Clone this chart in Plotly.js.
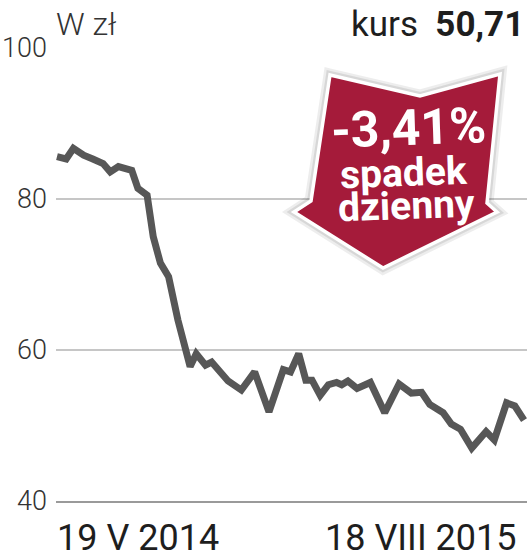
<!DOCTYPE html>
<html>
<head>
<meta charset="utf-8">
<script src="https://cdn.plot.ly/plotly-3.0.1.min.js"></script>
<style>
  html, body { margin: 0; padding: 0; background: #fff; }
  #chart { width: 527px; height: 560px; }
</style>
</head>
<body>
<div id="chart"></div>
<script>
// ---- data ----
const dates = [
  '2014-05-19','2014-05-28','2014-06-04','2014-06-14','2014-06-23','2014-07-03',
  '2014-07-10','2014-07-18','2014-07-31','2014-08-06','2014-08-15','2014-08-21',
  '2014-08-28','2014-09-05','2014-09-14','2014-09-26','2014-10-02','2014-10-11',
  '2014-10-17','2014-10-27','2014-11-02','2014-11-15','2014-11-28','2014-12-12',
  '2014-12-26','2015-01-02','2015-01-10','2015-01-17','2015-01-23','2015-01-31',
  '2015-02-08','2015-02-16','2015-02-21','2015-02-27','2015-03-08','2015-03-21',
  '2015-04-04','2015-04-18','2015-04-30','2015-05-10','2015-05-18','2015-05-31',
  '2015-06-08','2015-06-17','2015-06-28','2015-07-12','2015-07-20','2015-08-01',
  '2015-08-09','2015-08-18'
];
const prices = [
  85.6, 85.3, 86.7, 85.8, 85.3, 84.7,
  83.6, 84.3, 83.8, 81.4, 80.5, 75.0,
  71.5, 69.7, 64.0, 57.8, 59.5, 58.0,
  58.4, 56.7, 55.9, 54.7, 57.1, 51.8,
  57.4, 57.1, 59.5, 56.0, 56.0, 54.0,
  55.4, 55.7, 55.4, 55.9, 54.9, 55.7,
  51.7, 55.5, 54.3, 54.4, 52.8, 51.7,
  50.2, 49.5, 47.0, 49.2, 48.1, 53.0,
  52.6, 50.71
];
const yTickVals = [40, 60, 80, 100];
const yTickText = ['40', '60', '80', '100'];
const xLabels = ['19 V 2014', '18 VIII 2015'];
const unitLabel = 'W zł';
const priceLabel = 'kurs';
const lastPrice = '50,71';
const changeLabel = '-3,41%';
const changeWords = ['spadek', 'dzienny'];

// ---- geometry helpers (page pixels -> paper coords) ----
const W = 527, H = 560;
const M = { l: 56, r: 0, t: 48, b: 59 };
const PW = W - M.l - M.r, PH = H - M.t - M.b;
const px = x => (x - M.l) / PW;
const py = y => (H - M.b - y) / PH;

// arrow outline (decoration), page pixels
const arrowPts = [[330,75],[420,96],[500,74],[487,203],[497,212],[383,268],[294,212],[311,201]];
const arrowPath = 'M ' + arrowPts.map(p => px(p[0]).toFixed(4) + ',' + py(p[1]).toFixed(4)).join(' L ') + ' Z';

const txt = '#1e1e1e';

const trace = {
  x: dates, y: prices, type: 'scatter', mode: 'lines',
  line: { color: '#575757', width: 7 },
  hoverinfo: 'skip'
};

const layout = {
  width: W, height: H,
  margin: M,
  paper_bgcolor: '#fff', plot_bgcolor: '#fff',
  showlegend: false,
  xaxis: {
    type: 'date',
    range: ['2014-05-18 01:00', '2015-08-20 22:00'],
    showgrid: false, zeroline: false,
    showticklabels: false, ticks: '',
    showline: true, linecolor: '#9a9a9a', linewidth: 2
  },
  yaxis: {
    range: [40, 100],
    tickvals: yTickVals, ticktext: yTickText,
    showgrid: true, gridcolor: '#c6c6c6', gridwidth: 1.5,
    zeroline: false, showline: false, ticks: '',
    automargin: false,
    ticklabelstandoff: 8,
    tickfont: { family: 'Roboto', size: 27, color: '#333', weight: 300 }
  },
  shapes: [
    { type: 'path', xref: 'paper', yref: 'paper', path: arrowPath, layer: 'above',
      fillcolor: 'rgba(0,0,0,0.06)', line: { color: 'rgba(0,0,0,0.07)', width: 13 } },
    { type: 'path', xref: 'paper', yref: 'paper', path: arrowPath, layer: 'above',
      fillcolor: 'rgba(0,0,0,0.06)', line: { color: 'rgba(0,0,0,0.09)', width: 8 } },
    { type: 'path', xref: 'paper', yref: 'paper', path: arrowPath, layer: 'above',
      fillcolor: '#a51b3a', line: { color: '#ffffff', width: 3.5 } }
  ],
  annotations: [
    { xref: 'paper', yref: 'paper', x: px(54), y: py(24), xanchor: 'left', yanchor: 'middle',
      text: unitLabel, showarrow: false,
      font: { family: 'Roboto', size: 32, color: '#333', weight: 300 } },
    { xref: 'paper', yref: 'paper', x: px(526), y: py(25), xanchor: 'right', yanchor: 'middle',
      text: priceLabel + '  <b>' + lastPrice + '</b>', showarrow: false,
      font: { family: 'Roboto', size: 35, color: txt } },
    { xref: 'paper', yref: 'paper', x: px(55), y: py(538), xanchor: 'left', yanchor: 'middle',
      text: xLabels[0], showarrow: false,
      font: { family: 'Roboto', size: 36, color: txt } },
    { xref: 'paper', yref: 'paper', x: px(519), y: py(538), xanchor: 'right', yanchor: 'middle',
      text: xLabels[1], showarrow: false,
      font: { family: 'Roboto', size: 36, color: txt } },
    { xref: 'paper', yref: 'paper', x: px(408), y: py(128), xanchor: 'center', yanchor: 'middle',
      text: '<b>' + changeLabel + '</b>', showarrow: false, textangle: -2,
      font: { family: 'Roboto', size: 50, color: '#fff' } },
    { xref: 'paper', yref: 'paper', x: px(404), y: py(173), xanchor: 'center', yanchor: 'middle',
      text: '<b>' + changeWords[0] + '</b>', showarrow: false, textangle: -2,
      font: { family: 'Roboto', size: 39, color: '#fff' } },
    { xref: 'paper', yref: 'paper', x: px(406), y: py(206), xanchor: 'center', yanchor: 'middle',
      text: '<b>' + changeWords[1] + '</b>', showarrow: false, textangle: -2,
      font: { family: 'Roboto', size: 39, color: '#fff' } }
  ]
};

Plotly.newPlot('chart', [trace], layout, { staticPlot: true, displayModeBar: false });
</script>
</body>
</html>
